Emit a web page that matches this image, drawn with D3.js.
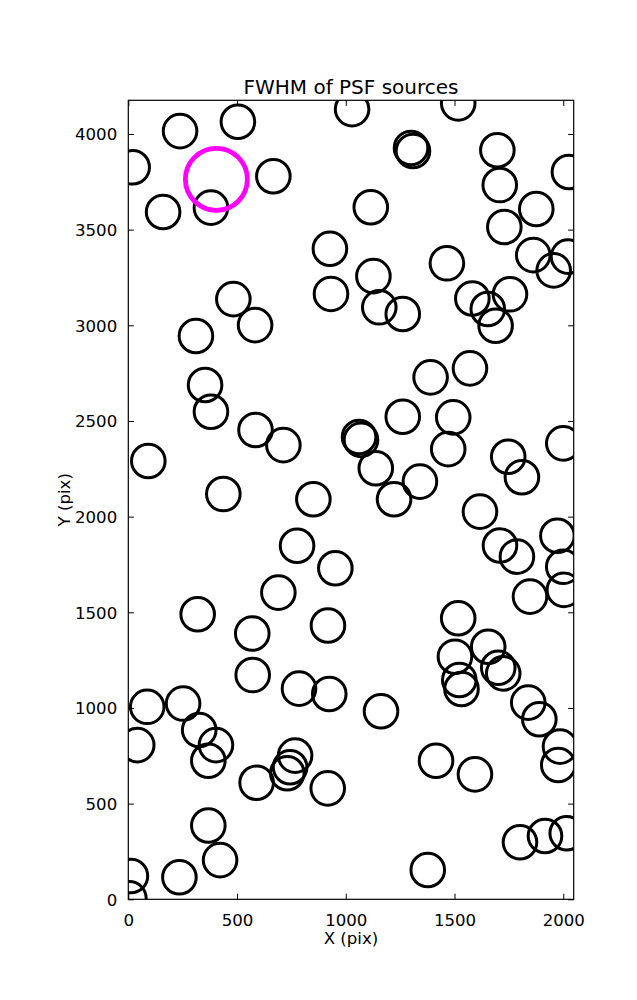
<!DOCTYPE html>
<html>
<head>
<meta charset="utf-8">
<script src="https://cdn.jsdelivr.net/npm/d3@7"></script>
<style>
  html, body { margin: 0; padding: 0; background: #fff; }
  svg { display: block; font-family: "DejaVu Sans", sans-serif; }
</style>
</head>
<body>
<svg id="chart" width="637" height="1000"></svg>
<script>
// ---- data ----
const srcX = [20,160,238,504,380,667,927,932,483,583,311,1029,1517,1300,1309,1697,1708,2026,1115,1876,1729,1862,2022,1956,1465,1127,1154,1262,1582,1755,1653,1689,1390,1571,353,380,585,713,92,437,851,776,952,690,319,570,918,1262,1494,1061,1070,1471,1138,1341,1222,1747,1810,2000,1617,1709,1787,1973,2000,2003,1847,1517,572,785,924,87,252,41,326,403,368,767,744,731,590,917,368,422,235,12,5,1162,1502,1655,1701,1724,1522,1532,1839,1890,1985,1977,1415,1594,1801,1916,2016,1377];
const srcY = [3826,3592,4015,4064,3615,3779,3400,3164,3137,3001,2944,4130,4160,3927,3911,3915,3733,3801,3617,3608,3514,3367,3359,3287,3324,3257,3094,3059,3140,3162,3085,2998,2728,2775,2688,2548,2453,2374,2291,2118,2091,1848,1730,1603,1490,1389,1431,2522,2519,2416,2401,2353,2253,2183,2091,2313,2206,2383,2026,1849,1791,1900,1738,1617,1582,1469,1172,1101,1073,1006,1023,806,885,806,724,751,690,659,609,580,386,205,115,122,5,983,1268,1320,1210,1181,1146,1099,1028,941,798,702,724,653,298,331,345,153];
const highlightX = [405];
const highlightY = [3763];
const xTicks = [0, 500, 1000, 1500, 2000];
const yTicks = [0, 500, 1000, 1500, 2000, 2500, 3000, 3500, 4000];
const xDomain = [0, 2048];
const yDomain = [0, 4176];
const titleText = "FWHM of PSF sources";
const xLabelText = "X (pix)";
const yLabelText = "Y (pix)";

// ---- layout ----
const L = 128.3, R = 573.7, T = 100.3, B = 899.3;
const svg = d3.select("#chart");
const x = d3.scaleLinear().domain(xDomain).range([L, R]);
const y = d3.scaleLinear().domain(yDomain).range([B, T]);

svg.append("defs").append("clipPath").attr("id", "plotclip")
  .append("rect").attr("x", L).attr("y", T).attr("width", R - L).attr("height", B - T);

const plot = svg.append("g").attr("clip-path", "url(#plotclip)");
const pts = srcX.map((v, i) => ({x: v, y: srcY[i]}));
plot.selectAll("circle.src").data(pts).join("circle")
  .attr("class", "src")
  .attr("cx", d => x(d.x)).attr("cy", d => y(d.y)).attr("r", 16.8)
  .attr("fill", "none").attr("stroke", "#000").attr("stroke-width", 3);

const hl = highlightX.map((v, i) => ({x: v, y: highlightY[i]}));
plot.selectAll("circle.hl").data(hl).join("circle")
  .attr("class", "hl")
  .attr("cx", d => x(d.x)).attr("cy", d => y(d.y)).attr("r", 31)
  .attr("fill", "none").attr("stroke", "#ff00ff").attr("stroke-width", 4.8);

// ---- axes (classic matplotlib: ticks inward, all sides) ----
const tl = 5.6;
const fontSize = 16.6;
const fmt = d3.format("d");
const xAxisB = d3.axisBottom(x).tickValues(xTicks).tickFormat(fmt).tickSizeInner(-tl).tickSizeOuter(0).tickPadding(tl + 5);
const xAxisT = d3.axisTop(x).tickValues(xTicks).tickSizeInner(-tl).tickSizeOuter(0).tickFormat("");
const yAxisL = d3.axisLeft(y).tickValues(yTicks).tickFormat(fmt).tickSizeInner(-tl).tickSizeOuter(0).tickPadding(tl + 5.5);
const yAxisR = d3.axisRight(y).tickValues(yTicks).tickSizeInner(-tl).tickSizeOuter(0).tickFormat("");

function styleAxis(g) {
  g.select(".domain").remove();
  g.selectAll(".tick line").attr("stroke", "#000").attr("stroke-width", 1);
  g.selectAll(".tick text").attr("fill", "#000").attr("font-size", fontSize)
    .attr("font-family", "DejaVu Sans, sans-serif");
}
svg.append("g").attr("transform", `translate(0,${B})`).call(xAxisB).call(styleAxis)
  .selectAll(".tick text").attr("dy", "0.95em");
svg.append("g").attr("transform", `translate(0,${T})`).call(xAxisT).call(styleAxis);
svg.append("g").attr("transform", `translate(${L},0)`).call(yAxisL).call(styleAxis)
  .selectAll(".tick text").attr("dy", "0.36em");
svg.append("g").attr("transform", `translate(${R},0)`).call(yAxisR).call(styleAxis);

// frame
svg.append("rect").attr("x", L).attr("y", T).attr("width", R - L).attr("height", B - T)
  .attr("fill", "none").attr("stroke", "#000").attr("stroke-width", 1.2);

// title & labels
svg.append("text").attr("x", (L + R) / 2).attr("y", 93.5).attr("text-anchor", "middle")
  .attr("font-size", 20).attr("fill", "#000").text(titleText);
svg.append("text").attr("x", (L + R) / 2).attr("y", 944).attr("text-anchor", "middle")
  .attr("font-size", fontSize).attr("fill", "#000").text(xLabelText);
svg.append("text").attr("transform", `translate(70,${(T + B) / 2}) rotate(-90)`)
  .attr("text-anchor", "middle").attr("font-size", fontSize).attr("fill", "#000").text(yLabelText);
</script>
</body>
</html>
